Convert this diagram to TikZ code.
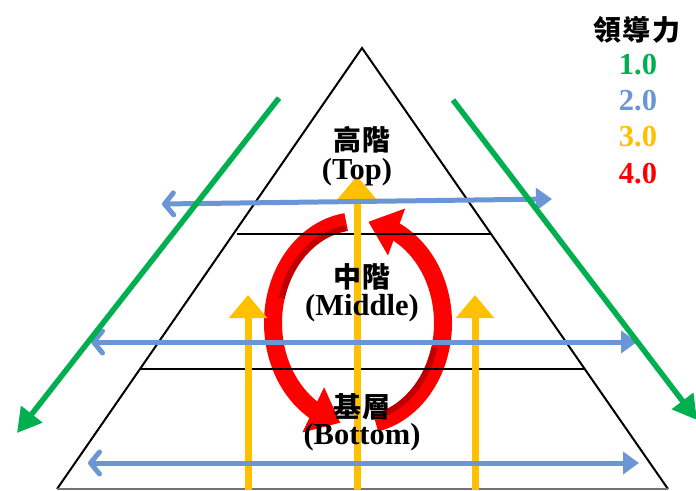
\documentclass[tikz,border=0pt]{standalone}
\usepackage{fontspec}
\setmainfont{Liberation Serif}
\newfontfamily\cjk{Noto Sans CJK TC}
\usetikzlibrary{arrows.meta,bending,calc}
\definecolor{gr}{RGB}{0,176,80}
\definecolor{bl}{RGB}{107,150,214}
\definecolor{ye}{RGB}{255,192,0}
\definecolor{rd}{RGB}{255,0,0}
\definecolor{drd}{RGB}{192,0,0}
\begin{document}
\begin{tikzpicture}[x=1pt,y=-1pt,
 greenarrow/.style={draw=gr,line width=5.5pt,-{Triangle[length=24pt,width=26pt]}},
 bluearrow/.style={draw=bl,line width=5pt,{Straight Barb[length=9pt,width=22pt,round]}-{Triangle[length=16pt,width=22pt]}},
 yellowarrow/.style={draw=ye,line width=7pt,-{Triangle[length=23pt,width=37pt]}},
 redarrow/.style={draw=rd,line width=18pt,-{Triangle[length=30pt,width=48pt,flex]}},
 darkband/.style={draw=drd,line width=6pt},
 layer/.style={draw=black,line width=2pt},
 lbl/.style={font=\fontsize{30.5}{32}\selectfont\bfseries,inner sep=0pt},
 cj/.style={font=\fontsize{28}{30}\selectfont\cjk\bfseries,inner sep=0pt},
]
\useasboundingbox (0,0) rectangle (696,490);
\fill[white] (0,0) rectangle (696,490);

% coordinates
\coordinate (apex) at (362,48);
\coordinate (bl) at (57,489);
\coordinate (br) at (668,489);
\coordinate (l1a) at (237,234);
\coordinate (l1b) at (490,234);
\coordinate (l2a) at (140,369);
\coordinate (l2b) at (584,369);
\coordinate (C) at (358,323);

% red cycle
\draw[redarrow] ($(C)+(98:85pt and 102pt)$) arc[start angle=98,end angle=258,x radius=85pt,y radius=102pt];
\draw[redarrow] ($(C)+(-78:85pt and 102pt)$) arc[start angle=-78,end angle=83,x radius=85pt,y radius=102pt];
\draw[darkband] ($(C)+(99:79pt and 96pt)$) arc[start angle=99,end angle=165,x radius=79pt,y radius=96pt];
\draw[darkband] ($(C)+(-77:79pt and 96pt)$) arc[start angle=-77,end angle=-15,x radius=79pt,y radius=96pt];

% pyramid
\draw[line width=2pt,line join=miter] (bl) -- (apex) -- (br);
\draw[line width=2pt,draw=black!55] (bl) -- (br);
\draw[layer] (l1a) -- (l1b);
\draw[layer] (l2a) -- (l2b);

% yellow arrows
\coordinate (yc0) at (357,490); \coordinate (yc1) at (357,176);
\coordinate (yl0) at (248,490); \coordinate (yl1) at (248,295);
\coordinate (yr0) at (475,490); \coordinate (yr1) at (475,295);
\draw[yellowarrow] (yc0) -- (yc1);
\draw[yellowarrow] (yl0) -- (yl1);
\draw[yellowarrow] (yr0) -- (yr1);

% blue arrows
\coordinate (b1a) at (162,204); \coordinate (b1b) at (552,199);
\coordinate (b2a) at (91,342);  \coordinate (b2b) at (637,342);
\coordinate (b3a) at (88,463);  \coordinate (b3b) at (639,463);
\draw[bluearrow] (b1a) -- (b1b);
\draw[bluearrow] (b2a) -- (b2b);
\draw[bluearrow] (b3a) -- (b3b);

% green arrows
\coordinate (g1a) at (279,98);  \coordinate (g1b) at (17,433);
\coordinate (g2a) at (453,100); \coordinate (g2b) at (697,420);
\draw[greenarrow] (g1a) -- (g1b);
\draw[greenarrow] (g2a) -- (g2b);

% labels
\node[cj]  (topzh) at (362,140) {高\kern2pt階};
\node[lbl] (topen) at (357,172) {(Top)};
\node[cj]  (midzh) at (362,277) {中\kern2pt階};
\node[lbl] (miden) at (362,308) {(Middle)};
\node[cj]  (botzh) at (362,407) {基\kern2pt層};
\node[lbl] (boten) at (362,437) {(Bottom)};

% legend
\node[cj]  (leg) at (637,30) {領\kern2pt導\kern2pt力};
\node[lbl,text=gr] (v1) at (638,65)  {1.0};
\node[lbl,text=bl] (v2) at (638,101) {2.0};
\node[lbl,text=ye] (v3) at (638,137) {3.0};
\node[lbl,text=rd] (v4) at (638,174) {4.0};
\end{tikzpicture}
\end{document}
